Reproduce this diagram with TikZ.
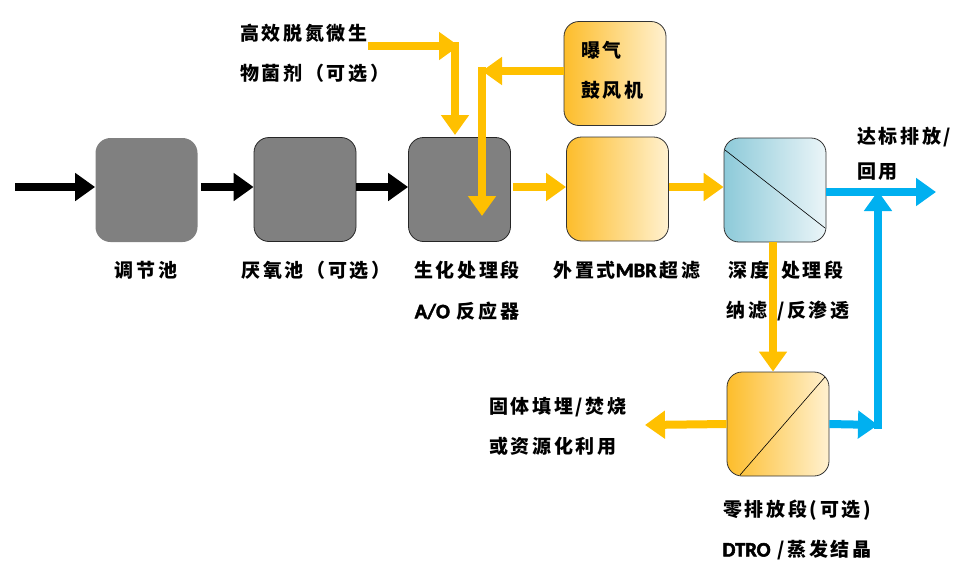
\documentclass[tikz,border=0pt]{standalone}
\usepackage{fontspec}
\newfontfamily\cjkfont{Noto Sans CJK SC}[LetterSpace=14]
\newfontfamily\latfont{Carlito}[FakeBold=2.5, Scale=1.08]
\newcommand{\lat}[1]{{\latfont #1}}
\usetikzlibrary{positioning,arrows.meta}

\definecolor{flowgray}{HTML}{808080}
\definecolor{flowyel}{HTML}{FFC000}
\definecolor{flowblue}{HTML}{00B0F0}
\definecolor{orgL}{HTML}{FDBD2B}
\definecolor{orgR}{HTML}{FFF1D0}
\definecolor{bluL}{HTML}{8DCAD9}
\definecolor{bluR}{HTML}{EBF5F8}

\begin{document}
\begin{tikzpicture}[
  x=1pt, y=-1pt,
  unit/.style    = {rounded corners=15pt, minimum width=102pt, minimum height=104pt,
                    inner sep=0pt, line width=0.8pt},
  graybox/.style = {unit, fill=flowgray, draw=black!85},
  orgbox/.style  = {unit, draw=black!80, left color=orgL, right color=orgR, shading angle=90},
  blubox/.style  = {unit, draw=black!80, left color=bluL, right color=bluR, shading angle=90},
  lbl/.style     = {font=\cjkfont\bfseries\fontsize{19}{21}\selectfont, inner sep=0pt},
  arrk/.style    = {-{Triangle[length=20pt, width=27pt]}, line width=8pt, black},
  arry/.style    = {-{Triangle[length=20pt, width=27pt]}, line width=8pt, flowyel},
  arrc/.style    = {-{Triangle[length=20pt, width=27pt]}, line width=8pt, flowblue},
]
\useasboundingbox (0,0) rectangle (976,571);

% ---- main line ----
\node[graybox, draw=none] (tjc) at (146.5,190) {};
\node[graybox] (yyc) at (305,189.5) {};
\node[graybox] (sh)  at (459.5,189.5) {};
\node[orgbox]  (mbr) at (617.5,189) {};
\node[blubox]  (sd)  at (775,190) {};
\draw[line width=0.6pt] (725,150) -- (825,228);

% ---- side units ----
\node[orgbox] (bq)  at (615,73.5) {};
\node[orgbox] (zld) at (778,424) {};
\draw[line width=0.6pt] (740,475) -- (825,377);

% ---- labels ----
\node[lbl] (tjcL) at (146,270) {调节池};
\node[lbl] (yycL) at (316,270) {厌氧池（可选）};
\node[lbl] (shL)  at (467,270) {生化处理段};
\node[lbl] (shL2) at (467,311) {\lat{A/O} 反应器};
\node[lbl] (mbrL) at (627,270) {外置式\lat{MBR}\,超滤};
\node[lbl] (sdL)  at (786,270) {深度\hspace{12pt}处理段};
\node[lbl] (sdL2) at (788,311) {纳滤\hspace{10pt}/反渗透};
\node[lbl, anchor=west] (jL)  at (240,33) {高效脱氮微生};
\node[lbl, anchor=west] (jL2) at (240,73) {物菌剂（可选）};
\node[lbl, anchor=west] (bqL) at (581,50) {曝气};
\node[lbl, anchor=west] (bqL2) at (581,90) {鼓风机};
\node[lbl, anchor=west] (outL) at (857,137) {达标排放/};
\node[lbl, anchor=west] (outL2) at (857,172) {回用};
\node[lbl, anchor=west] (slL) at (489,407) {固体填埋/焚烧};
\node[lbl, anchor=west] (slL2) at (489,446) {或资源化利用};
\node[lbl] (zldL) at (797,510) {零排放段(可选)};
\node[lbl] (zldL2) at (797,550) {\lat{DTRO} /蒸发结晶};

% ---- coordinates for free ends ----
\coordinate (in)    at (15,187);
\coordinate (jA)    at (368,46);
\coordinate (jB)    at (459,46);
\coordinate (jC)    at (455,42);
\coordinate (jD)    at (455,135);
\coordinate (bqA)   at (482,71);
\coordinate (bqB)   at (482,67);
\coordinate (bqC)   at (482,216);
\coordinate (outE)  at (936,192);
\coordinate (slE)   at (645,425);
\coordinate (upA)   at (878,425);
\coordinate (upB)   at (878,429);
\coordinate (upC)   at (878,191);

% ---- edges ----
\draw[arrk] (in) -- (tjc.west |- in);
\draw[arrk] (tjc.east |- in) ++(3,0) -- (yyc.west |- in);
\draw[arrk] (yyc.east |- in) -- (sh.west |- in);
\draw[arry] (sh.east |- in) ++(2,0) -- (mbr.west |- in);
\draw[arry] (mbr.east |- in) -- (sd.west |- in);
\draw[arrc] (sd.east |- outE) -- (outE);
\draw[arry] (sd.south -| 773,0) -- (zld.north -| 773,0);
\draw[arry] (zld.west) -- (slE);
\draw[arrc] (zld.east) -- (upA);
\draw[arrc] (upB) -- (upC);
\draw[arry] (jA) -- (jB);
\draw[arry] (jC) -- (jD);
\draw[arry] (bq.west |- bqA) -- (bqA);
\draw[arry] (bqB) -- (bqC);

\end{tikzpicture}
\end{document}
